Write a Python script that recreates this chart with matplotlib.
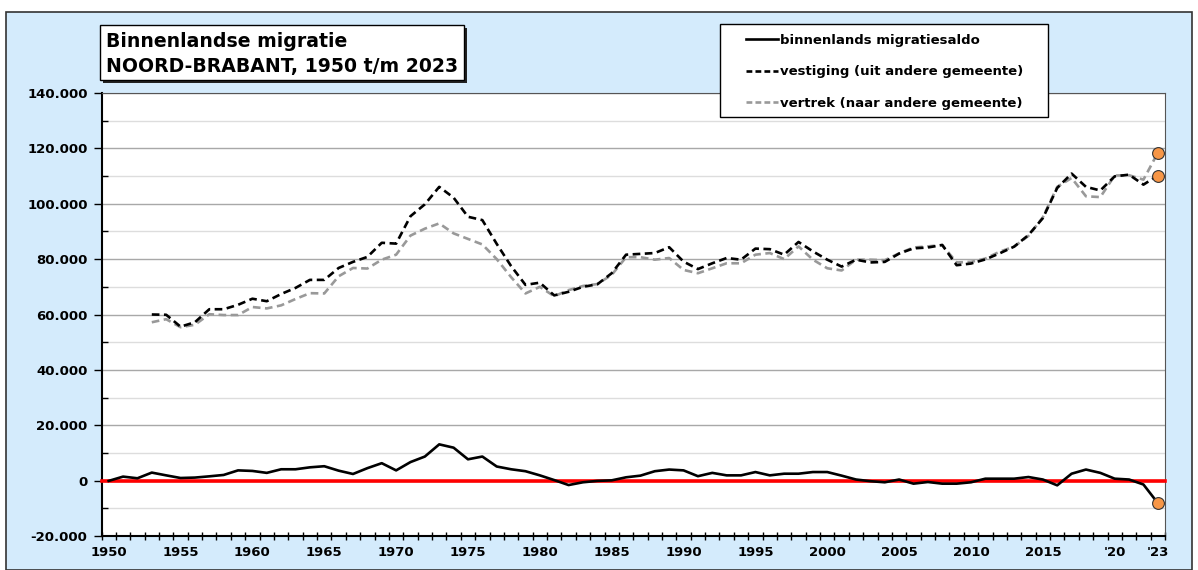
import numpy as np
import matplotlib
matplotlib.use("Agg")
import matplotlib.pyplot as plt
from matplotlib.patches import Rectangle
from matplotlib.lines import Line2D
from matplotlib.ticker import FuncFormatter

# data
years = list(range(1950, 2024))
saldo = [-100, 1450, 850, 2900, 1900, 950, 1100, 1550, 2050, 3700,
         3500, 2800, 4100, 4100, 4800, 5200, 3600, 2400, 4500, 6300,
         3700, 6700, 8700, 13100, 11900, 7700, 8700, 5100, 4100, 3400,
         1900, 200, -1600, -600, -100, 100, 1200, 1800, 3400, 4000,
         3700, 1600, 2800, 1900, 1900, 3100, 1900, 2500, 2500, 3100,
         3100, 1800, 400, -200, -600, 400, -1100, -500, -1100, -1100,
         -600, 700, 700, 700, 1300, 400, -1700, 2500, 4000, 2800,
         700, 400, -1400, -8100]

years_flow = list(range(1953, 2024))
vestiging = [60000, 59900, 55600, 57200, 61900, 61900, 63500,
             65700, 64800, 67400, 69600, 72500, 72500, 76800, 79000, 80800, 85900,
             85600, 95500, 99800, 106100, 102200, 95300, 94100, 85500, 77500, 70700,
             71500, 66900, 68200, 70000, 70900, 74900, 81600, 81900, 82200, 84300,
             79100, 76400, 78500, 80400, 79800, 83800, 83600, 81600, 86200, 82800,
             79800, 77300, 79800, 78800, 79000, 82000, 83900, 84200, 85100, 77800,
             78400, 79900, 82100, 84500, 88700, 94800, 105700, 110900, 106100, 104800,
             109900, 110500, 106900, 110200]
vertrek = [57200, 58300, 55400, 56300, 60100, 59800, 59800,
           62700, 62200, 63300, 65600, 67700, 67600, 73800, 76800, 76600, 79800,
           81600, 88500, 91000, 92900, 89300, 87300, 85300, 80000, 73500, 67600,
           70000, 66600, 68800, 70300, 71000, 74300, 80700, 80700, 79800, 80400,
           76100, 74900, 76700, 78500, 78500, 81600, 82200, 80000, 84600, 79800,
           76700, 75900, 79800, 79800, 79600, 82100, 84200, 84600, 85100, 78800,
           79000, 80200, 82700, 84500, 88400, 95100, 106100, 109300, 102700, 102400,
           110200, 110300, 108700, 118400]

label_years = [1950, 1955, 1960, 1965, 1970, 1975, 1980, 1985, 1990, 1995,
               2000, 2005, 2010, 2015, 2020, 2023]
label_text = ["1950", "1955", "1960", "1965", "1970", "1975", "1980", "1985",
              "1990", "1995", "2000", "2005", "2010", "2015", "'20", "'23"]

W, H = 1198, 570
fig = plt.figure(figsize=(W / 100, H / 100), dpi=100)
fig.patch.set_facecolor("white")

# light blue chart frame
fig.patches.append(Rectangle((6 / W, 0), 1186 / W, 1 - 12 / H, transform=fig.transFigure,
                             facecolor="#D4EBFC", edgecolor="#333333", lw=1.2, zorder=-5))

ax = fig.add_axes([101.5 / W, 1 - 536 / H, (1165 - 101.5) / W, (536 - 93) / H])
ax.set_zorder(2)
ax.set_facecolor("white")

ax.set_xlim(1949.5, 2023.5)
ax.set_ylim(-20000, 140000)

# gridlines
for v in range(-10000, 140001, 20000):
    ax.axhline(v, color="#DDDDDD", lw=1.0, zorder=1)
for v in range(-20000, 140001, 20000):
    ax.axhline(v, color="#A8A8A8", lw=1.0, zorder=1)

ax.axhline(0, color="#FF0000", lw=2.6, zorder=3, clip_on=False)

ax.plot(years, saldo, color="black", lw=1.9, zorder=4)
l1, = ax.plot(years_flow, vertrek, color="#999999", lw=1.9, zorder=4)
l1.set_dashes([2.9, 1.7])
l2, = ax.plot(years_flow, vestiging, color="black", lw=1.9, zorder=5)
l2.set_dashes([2.9, 1.7])

# end markers
ax.plot([years[-1]], [saldo[-1]], "o", ms=8.5, mfc="#F79646", mec="#333333", mew=0.8,
        zorder=6, clip_on=False)
ax.plot([years_flow[-1]] * 2, [vestiging[-1], vertrek[-1]], "o", ms=8.5, mfc="#F79646",
        mec="#333333", mew=0.8, linestyle="none", zorder=6, clip_on=False)

# spines
for s in ["left", "bottom"]:
    ax.spines[s].set_color("black")
    ax.spines[s].set_linewidth(1.5)
for s in ["top", "right"]:
    ax.spines[s].set_color("#555555")
    ax.spines[s].set_linewidth(0.8)

# y ticks
ax.set_yticks(range(-20000, 140001, 20000))
ax.set_yticks(range(-10000, 140001, 20000), minor=True)
ax.yaxis.set_major_formatter(FuncFormatter(lambda v, p: f"{int(v):,}".replace(",", ".")))
ax.tick_params(axis="y", which="major", direction="out", length=6, width=1, pad=4,
               labelsize=9.5)
ax.tick_params(axis="y", which="minor", direction="in", length=4, width=1)

# x ticks: labels at category centres, tick marks at boundaries
ax.set_xticks(label_years)
ax.set_xticklabels(label_text)
ax.set_xticks(np.arange(1949.5, 2024, 1), minor=True)
ax.tick_params(axis="x", which="major", length=0, pad=7, labelsize=9.5)
ax.tick_params(axis="x", which="minor", direction="inout", length=6, width=1)
for lab in ax.get_xticklabels() + ax.get_yticklabels():
    lab.set_fontweight("bold")

# title box with shadow
fig.patches.append(Rectangle((103 / W, 1 - 83 / H), 364 / W, 55 / H, transform=fig.transFigure,
                             facecolor="#222222", edgecolor="none", zorder=5))
fig.patches.append(Rectangle((100 / W, 1 - 80 / H), 364 / W, 55 / H, transform=fig.transFigure,
                             facecolor="white", edgecolor="black", lw=1.0, zorder=6))
fig.text(106 / W, 1 - 47 / H, "Binnenlandse migratie", fontsize=13.6, fontweight="bold",
         va="baseline", ha="left", zorder=7)
fig.text(106 / W, 1 - 72 / H, "NOORD-BRABANT, 1950 t/m 2023", fontsize=13.6,
         fontweight="bold", va="baseline", ha="left", zorder=7)

# legend box drawn by hand, legend itself frameless
fig.patches.append(Rectangle((720 / W, 1 - 117 / H), 328 / W, 93 / H, transform=fig.transFigure,
                             facecolor="white", edgecolor="black", lw=1.0, zorder=8))
h1 = Line2D([], [], color="black", lw=1.9)
h2 = Line2D([], [], color="black", lw=1.9, dashes=[2.2, 1.2])
h3 = Line2D([], [], color="#999999", lw=1.9, dashes=[2.2, 1.2])
leg = fig.legend([h1, h2, h3],
                 ["binnenlands migratiesaldo", "vestiging (uit andere gemeente)",
                  "vertrek (naar andere gemeente)"],
                 loc="upper left", bbox_to_anchor=(742 / W, 1 - 30 / H),
                 prop={"weight": "bold", "size": 9.5}, frameon=False,
                 handlelength=2.4, handletextpad=0.2,
                 labelspacing=1.4, borderpad=0.3, borderaxespad=0)
leg.set_zorder(10)

fig.savefig("out.png", dpi=100)
